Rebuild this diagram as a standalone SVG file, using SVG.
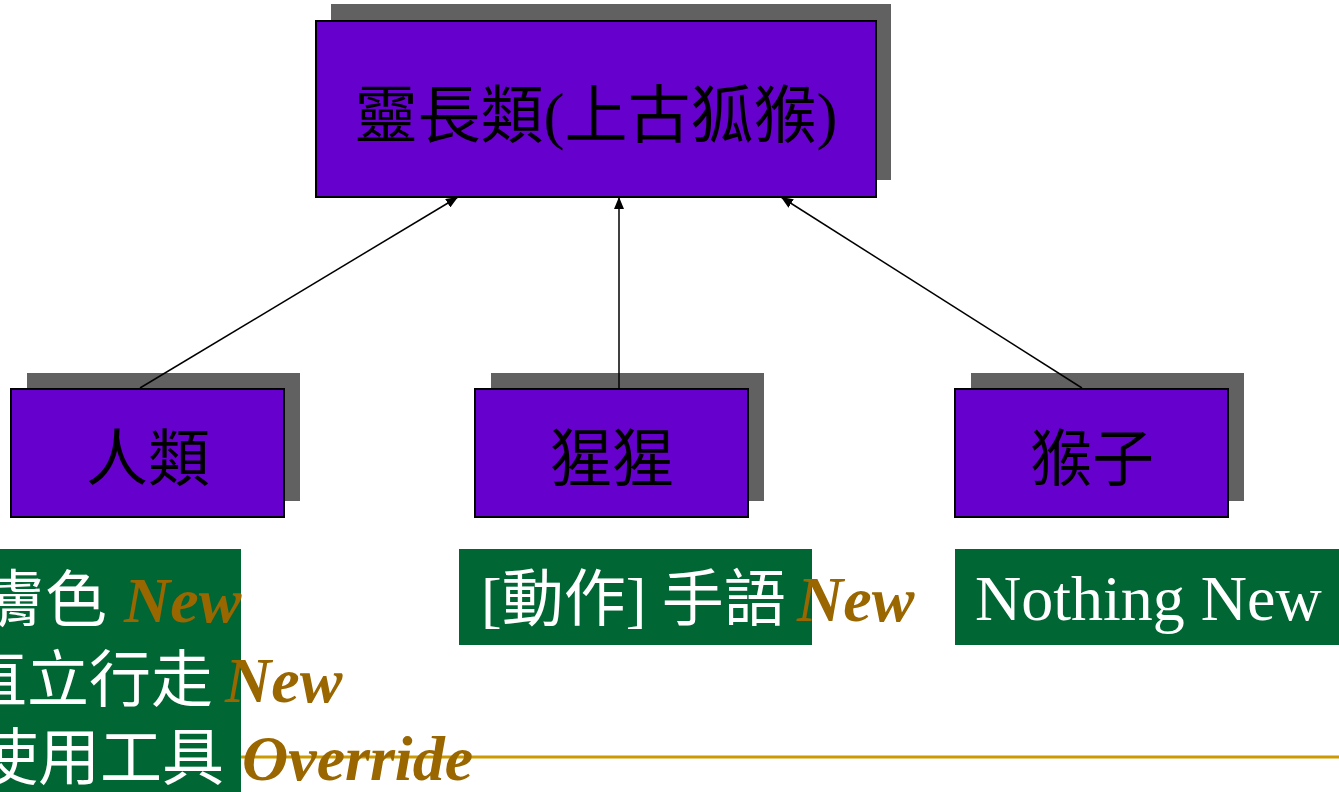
<svg xmlns="http://www.w3.org/2000/svg" width="1339" height="792" viewBox="0 0 1339 792">
<defs>
<marker id="arr" viewBox="0 0 12 10" refX="12" refY="5" markerWidth="12" markerHeight="10" markerUnits="userSpaceOnUse" orient="auto">
<path d="M0,0 L12,5 L0,10 z" fill="#000"/>
</marker>
</defs>
<style>
.shadow{fill:#616161}
.box{fill:#6600CC;stroke:#000;stroke-width:2}
.lbl{font-family:"Liberation Serif","Noto Sans CJK TC",serif;fill:#000;text-anchor:middle}
.note{fill:#006633}
.wt{font-family:"Liberation Serif","Noto Sans CJK TC",serif;fill:#fff;font-size:62px}
.nw{font-family:"Liberation Serif","Noto Sans CJK TC",serif;fill:#996600;font-weight:bold;font-style:italic;font-size:64px}
.conn{stroke:#000;stroke-width:1.5;fill:none;marker-end:url(#arr)}
</style>
<rect width="1339" height="792" fill="#fff"/>
<g id="primate">
<rect class="shadow" x="331" y="4" width="560" height="176"/>
<rect class="box" x="316" y="21" width="560" height="176"/>
<text class="lbl" x="596" y="137" font-size="63">靈長類(上古狐猴)</text>
</g>
<g id="human">
<rect class="shadow" x="27" y="373" width="273" height="128"/>
<rect class="box" x="11" y="389" width="273" height="128"/>
<text class="lbl" x="148" y="481" font-size="62">人類</text>
</g>
<g id="ape">
<rect class="shadow" x="491" y="373" width="273" height="128"/>
<rect class="box" x="475" y="389" width="273" height="128"/>
<text class="lbl" x="612" y="481" font-size="62">猩猩</text>
</g>
<g id="monkey">
<rect class="shadow" x="971" y="373" width="273" height="128"/>
<rect class="box" x="955" y="389" width="273" height="128"/>
<text class="lbl" x="1092" y="481" font-size="62">猴子</text>
</g>
<g id="connectors">
<line class="conn" x1="140" y1="388" x2="458" y2="197"/>
<line class="conn" x1="619" y1="388" x2="619" y2="197"/>
<line class="conn" x1="1082" y1="388" x2="781" y2="197"/>
</g>
<line x1="241" y1="757" x2="1339" y2="757" stroke="#CC9900" stroke-width="3"/>
<g id="human-notes">
<rect class="note" x="0" y="549" width="241" height="243"/>
<text x="-17" y="622"><tspan class="wt">膚色 </tspan><tspan class="nw" x="124">New</tspan></text>
<text x="-35" y="702"><tspan class="wt">直立行走</tspan><tspan class="nw" x="225">New</tspan></text>
<text x="-24" y="780"><tspan class="wt">使用工具 </tspan><tspan class="nw" x="242">Override</tspan></text>
</g>
<g id="ape-notes">
<rect class="note" x="459" y="549" width="353" height="96"/>
<text x="481" y="621"><tspan class="wt">[動作] 手語</tspan><tspan class="nw" x="797">New</tspan></text>
</g>
<g id="monkey-notes">
<rect class="note" x="955" y="549" width="384" height="96"/>
<text x="975" y="620" class="wt" style="font-size:64px">Nothing New</text>
</g>
</svg>
